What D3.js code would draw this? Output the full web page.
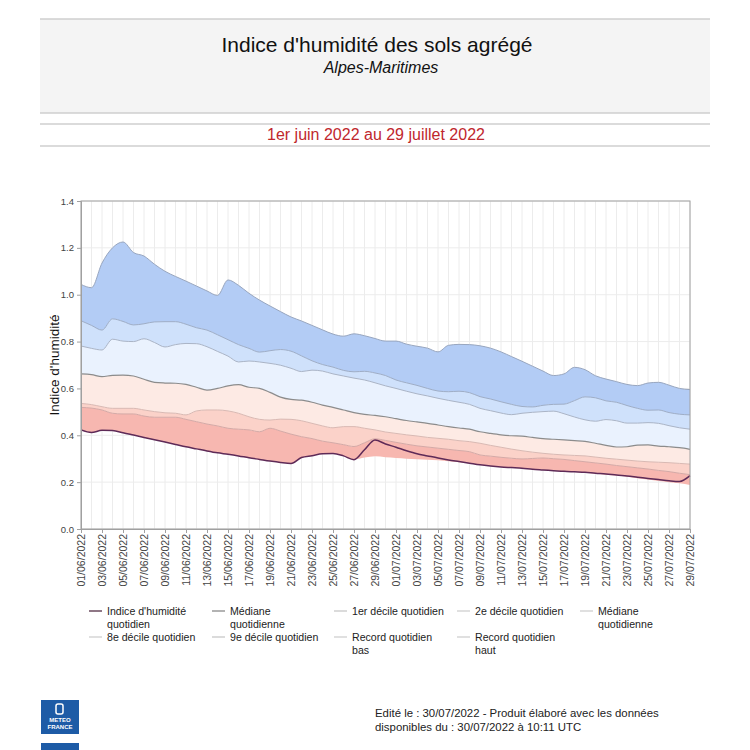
<!DOCTYPE html>
<html>
<head>
<meta charset="utf-8">
<script src="https://cdn.jsdelivr.net/npm/d3@7"></script>
<style>
  body { margin: 0; background: #fff; font-family: Arial, "Liberation Sans", sans-serif; }
</style>
</head>
<body>
<svg id="chart" width="750" height="750"></svg>
<script>
// dates: 1er juin -> 29 juillet 2022
const dates = d3.timeDay.range(new Date(2022, 5, 1), new Date(2022, 6, 30));

// values, one per day
const indice = [0.423, 0.412, 0.421, 0.42, 0.411, 0.401, 0.391, 0.381, 0.371, 0.361, 0.351, 0.342, 0.333, 0.325, 0.319, 0.312, 0.304, 0.297, 0.29, 0.284,
  0.28, 0.305, 0.313, 0.321, 0.322, 0.312, 0.296, 0.338, 0.38, 0.363, 0.349, 0.334, 0.321, 0.312, 0.303, 0.295, 0.288, 0.281, 0.274, 0.269,
  0.265, 0.262, 0.259, 0.255, 0.252, 0.249, 0.246, 0.244, 0.242, 0.238, 0.235, 0.23, 0.226, 0.221, 0.216, 0.211, 0.206, 0.203, 0.228];
const recordBas = [0.423, 0.412, 0.421, 0.42, 0.411, 0.401, 0.391, 0.381, 0.371, 0.361, 0.351, 0.342, 0.333, 0.325, 0.319, 0.312, 0.304, 0.297, 0.29, 0.284,
  0.28, 0.305, 0.313, 0.321, 0.322, 0.312, 0.296, 0.305, 0.31, 0.306, 0.303, 0.3, 0.298, 0.296, 0.293, 0.289, 0.285, 0.28, 0.274, 0.269,
  0.265, 0.262, 0.259, 0.255, 0.252, 0.249, 0.246, 0.243, 0.24, 0.236, 0.232, 0.228, 0.223, 0.217, 0.211, 0.205, 0.2, 0.195, 0.188];
const decile1 = [0.519, 0.516, 0.508, 0.494, 0.491, 0.491, 0.482, 0.477, 0.477, 0.477, 0.468, 0.458, 0.448, 0.44, 0.43, 0.426, 0.423, 0.415, 0.43, 0.418,
  0.405, 0.394, 0.386, 0.375, 0.368, 0.36, 0.352, 0.368, 0.385, 0.378, 0.37, 0.362, 0.355, 0.35, 0.345, 0.34, 0.335, 0.33, 0.316, 0.311,
  0.306, 0.302, 0.299, 0.301, 0.303, 0.3, 0.297, 0.292, 0.287, 0.282, 0.277, 0.271, 0.266, 0.261, 0.256, 0.25, 0.245, 0.238, 0.232];
const decile2 = [0.536, 0.531, 0.522, 0.515, 0.515, 0.515, 0.508, 0.501, 0.496, 0.494, 0.487, 0.504, 0.508, 0.508, 0.504, 0.494, 0.479, 0.468, 0.465, 0.469,
  0.468, 0.462, 0.451, 0.44, 0.432, 0.437, 0.437, 0.43, 0.423, 0.414, 0.408, 0.402, 0.397, 0.391, 0.387, 0.383, 0.377, 0.373, 0.366, 0.357,
  0.349, 0.341, 0.334, 0.328, 0.323, 0.319, 0.316, 0.314, 0.312, 0.307, 0.302, 0.298, 0.294, 0.29, 0.287, 0.285, 0.283, 0.28, 0.277];
const mediane = [0.662, 0.659, 0.65, 0.656, 0.657, 0.653, 0.639, 0.626, 0.623, 0.622, 0.617, 0.605, 0.593, 0.6, 0.611, 0.616, 0.605, 0.6, 0.583, 0.563,
  0.553, 0.55, 0.541, 0.529, 0.519, 0.508, 0.497, 0.489, 0.485, 0.479, 0.471, 0.463, 0.457, 0.451, 0.444, 0.437, 0.431, 0.426, 0.415, 0.408,
  0.402, 0.398, 0.396, 0.391, 0.386, 0.383, 0.38, 0.377, 0.374, 0.366, 0.357, 0.35, 0.351, 0.358, 0.359, 0.354, 0.351, 0.347, 0.34];
const decile8 = [0.781, 0.771, 0.764, 0.81, 0.802, 0.8, 0.812, 0.796, 0.777, 0.787, 0.792, 0.791, 0.778, 0.758, 0.738, 0.713, 0.717, 0.713, 0.707, 0.699,
  0.686, 0.672, 0.678, 0.674, 0.662, 0.653, 0.644, 0.636, 0.624, 0.611, 0.6, 0.588, 0.577, 0.568, 0.558, 0.549, 0.541, 0.532, 0.515, 0.505,
  0.495, 0.488, 0.494, 0.498, 0.501, 0.503, 0.492, 0.478, 0.466, 0.46, 0.467, 0.462, 0.452, 0.452, 0.454, 0.451, 0.441, 0.432, 0.426];
const decile9 = [0.889, 0.869, 0.849, 0.897, 0.886, 0.871, 0.876, 0.884, 0.885, 0.885, 0.874, 0.859, 0.849, 0.829, 0.808, 0.787, 0.771, 0.755, 0.761, 0.766,
  0.759, 0.739, 0.718, 0.702, 0.691, 0.677, 0.671, 0.673, 0.666, 0.655, 0.636, 0.624, 0.613, 0.6, 0.589, 0.586, 0.588, 0.582, 0.565, 0.555,
  0.543, 0.532, 0.523, 0.521, 0.528, 0.532, 0.533, 0.548, 0.564, 0.56, 0.547, 0.541, 0.527, 0.515, 0.507, 0.508, 0.497, 0.49, 0.487];
const recordHaut = [1.044, 1.03, 1.135, 1.2, 1.225, 1.18, 1.165, 1.13, 1.1, 1.078, 1.058, 1.037, 1.016, 0.997, 1.063, 1.04, 1.006, 0.977, 0.952, 0.928,
  0.905, 0.888, 0.869, 0.85, 0.832, 0.823, 0.833, 0.825, 0.813, 0.802, 0.802, 0.789, 0.78, 0.772, 0.756, 0.784, 0.788, 0.787, 0.782, 0.772,
  0.756, 0.736, 0.716, 0.695, 0.674, 0.655, 0.662, 0.69, 0.68, 0.654, 0.64, 0.629, 0.617, 0.612, 0.623, 0.626, 0.614, 0.6, 0.595];

const yTicks = [0, 0.2, 0.4, 0.6, 0.8, 1.0, 1.2, 1.4];

const legendLabels = [
  ["Indice d'humidité", "quotidien"], ["Médiane", "quotidienne"], ["1er décile quotidien"], ["2e décile quotidien"], ["Médiane", "quotidienne"],
  ["8e décile quotidien"], ["9e décile quotidien"], ["Record quotidien", "bas"], ["Record quotidien", "haut"]
];
const legendColors = ["#6a4a5e", "#9a9a9a", "#cfcfcf", "#d6d6d6", "#d6d6d6", "#d6d6d6", "#cfcfcf", "#d6d6d6", "#d6d6d6"];

// bands from bottom to top
const bounds = [recordBas, decile1, decile2, mediane, decile8, decile9, recordHaut];
const bandFill = ["#f7b7b0", "#fbd2c9", "#fdeae4", "#eaf2fe", "#cfe1fb", "#b3ccf5"];
const boundStroke = [null, "#d4a9a6", "#d9b9b3", "#8c8c8c", "#aab4c6", "#9eadc6", "#98a6bf"];

const svg = d3.select("#chart");

// ---- header ----
svg.append("rect").attr("x", 40).attr("y", 19).attr("width", 670).attr("height", 94).attr("fill", "#f4f4f4");
[19, 113, 124, 146].forEach(yy => {
  svg.append("line").attr("x1", 40).attr("x2", 710).attr("y1", yy).attr("y2", yy)
    .attr("stroke", "#cfcfcf").attr("stroke-width", 1.5);
});
svg.append("text").attr("x", 377).attr("y", 52).attr("text-anchor", "middle")
  .style("font-size", "21px").attr("fill", "#111").text("Indice d'humidité des sols agrégé");
svg.append("text").attr("x", 381).attr("y", 73).attr("text-anchor", "middle")
  .style("font-size", "16px").style("font-style", "italic").attr("fill", "#111").text("Alpes-Maritimes");
svg.append("text").attr("x", 376).attr("y", 140).attr("text-anchor", "middle")
  .style("font-size", "16px").attr("fill", "#c0272d").text("1er juin 2022 au 29 juillet 2022");

// ---- plot ----
const plotLeft = 81, plotRight = 690, plotTop = 201, plotBottom = 529;

const x = d3.scaleTime()
  .domain([dates[0], dates[dates.length - 1]])
  .range([plotLeft, plotRight]);

const y = d3.scaleLinear()
  .domain([0, 1.4])
  .range([plotBottom, plotTop]);

// grid
svg.append("g").selectAll("line").data(dates).enter().append("line")
  .attr("x1", d => x(d)).attr("x2", d => x(d)).attr("y1", plotTop).attr("y2", plotBottom)
  .attr("stroke", "#ececec").attr("stroke-width", 1);
svg.append("g").selectAll("line").data(yTicks).enter().append("line")
  .attr("x1", plotLeft).attr("x2", plotRight).attr("y1", d => y(d)).attr("y2", d => y(d))
  .attr("stroke", "#ececec").attr("stroke-width", 1);

// bands
for (let b = 0; b < bandFill.length; b++) {
  const lo = bounds[b], hi = bounds[b + 1];
  const area = d3.area()
    .x((d, i) => x(dates[i]))
    .y0((d, i) => y(lo[i]))
    .y1((d, i) => y(hi[i]))
    .curve(d3.curveMonotoneX);
  svg.append("path").datum(dates).attr("d", area).attr("fill", bandFill[b]);
}

// band edges
bounds.forEach((vals, k) => {
  if (!boundStroke[k]) return;
  const line = d3.line()
    .x((d, i) => x(dates[i]))
    .y(d => y(d))
    .curve(d3.curveMonotoneX);
  svg.append("path").datum(vals).attr("d", line).attr("fill", "none")
    .attr("stroke", boundStroke[k]).attr("stroke-width", k === 3 ? 1.2 : 1);
});

// index line
const indexLine = d3.line()
  .x((d, i) => x(dates[i]))
  .y(d => y(d))
  .curve(d3.curveMonotoneX);
svg.append("path").datum(indice).attr("d", indexLine).attr("fill", "none")
  .attr("stroke", "#5e2a57").attr("stroke-width", 1.5);

// frame
svg.append("rect").attr("x", plotLeft).attr("y", plotTop)
  .attr("width", plotRight - plotLeft).attr("height", plotBottom - plotTop)
  .attr("fill", "none").attr("stroke", "#a0a0a0").attr("stroke-width", 1);

// axes
const yAxis = svg.append("g")
  .attr("transform", `translate(${plotLeft},0)`)
  .call(d3.axisLeft(y).tickValues(yTicks).tickFormat(d3.format(".1f")).tickSize(4).tickPadding(3));
yAxis.select(".domain").attr("stroke", "#a0a0a0");
yAxis.selectAll(".tick line").attr("stroke", "#a0a0a0");
yAxis.selectAll("text").style("font-size", "9.5px").attr("fill", "#444").style("font-family", "Arial, 'Liberation Sans', sans-serif");

const xAxis = svg.append("g")
  .attr("transform", `translate(0,${plotBottom})`)
  .call(d3.axisBottom(x).tickValues(dates.filter((d, i) => i % 2 === 0))
    .tickFormat(d3.timeFormat("%d/%m/%Y")).tickSize(4));
xAxis.select(".domain").attr("stroke", "#a0a0a0");
xAxis.selectAll(".tick line").attr("stroke", "#a0a0a0");
xAxis.selectAll("text")
  .attr("transform", "rotate(-90)")
  .attr("x", -5).attr("y", 0).attr("dy", "0.35em")
  .style("text-anchor", "end")
  .style("font-size", "10.5px").attr("fill", "#444").style("font-family", "Arial, 'Liberation Sans', sans-serif");

// y label
svg.append("text")
  .attr("transform", `translate(59,${(plotTop + plotBottom) / 2}) rotate(-90)`)
  .attr("text-anchor", "middle")
  .style("font-size", "13.5px").attr("fill", "#111")
  .text("Indice d'humidité");

// ---- legend ----
const legendX = [89, 212, 334, 457, 580];
const legendY = [611, 637];
legendLabels.forEach((lab, i) => {
  const lx = legendX[i % 5], ly = legendY[Math.floor(i / 5)];
  const g = svg.append("g");
  g.append("line").attr("x1", lx).attr("x2", lx + 13).attr("y1", ly).attr("y2", ly)
    .attr("stroke", legendColors[i]).attr("stroke-width", 1.5);
  const t = g.append("text").attr("x", lx + 18).attr("y", ly + 4)
    .style("font-size", "10.6px").attr("fill", "#222");
  lab.forEach((s, j) => {
    t.append("tspan").attr("x", lx + 18).attr("dy", j === 0 ? 0 : 13).text(s);
  });
});

// ---- footer ----
svg.append("rect").attr("x", 41).attr("y", 700).attr("width", 38).attr("height", 34).attr("fill", "#1d5ba6");
svg.append("rect").attr("x", 56).attr("y", 704).attr("width", 7).attr("height", 10).attr("rx", 2)
  .attr("fill", "none").attr("stroke", "#fff").attr("stroke-width", 1.5);
svg.append("text").attr("x", 60).attr("y", 722).attr("text-anchor", "middle")
  .style("font-size", "6px").style("font-weight", "bold").attr("fill", "#fff").text("METEO");
svg.append("text").attr("x", 60).attr("y", 729).attr("text-anchor", "middle")
  .style("font-size", "6px").style("font-weight", "bold").attr("fill", "#fff").text("FRANCE");
svg.append("rect").attr("x", 41).attr("y", 743).attr("width", 38).attr("height", 10).attr("fill", "#1d5ba6");

svg.append("text").attr("x", 375).attr("y", 717)
  .style("font-size", "11.4px").attr("fill", "#222")
  .text("Edité le : 30/07/2022 - Produit élaboré avec les données");
svg.append("text").attr("x", 375).attr("y", 731)
  .style("font-size", "11.4px").attr("fill", "#222")
  .text("disponibles du : 30/07/2022 à 10:11 UTC");
</script>
</body>
</html>
